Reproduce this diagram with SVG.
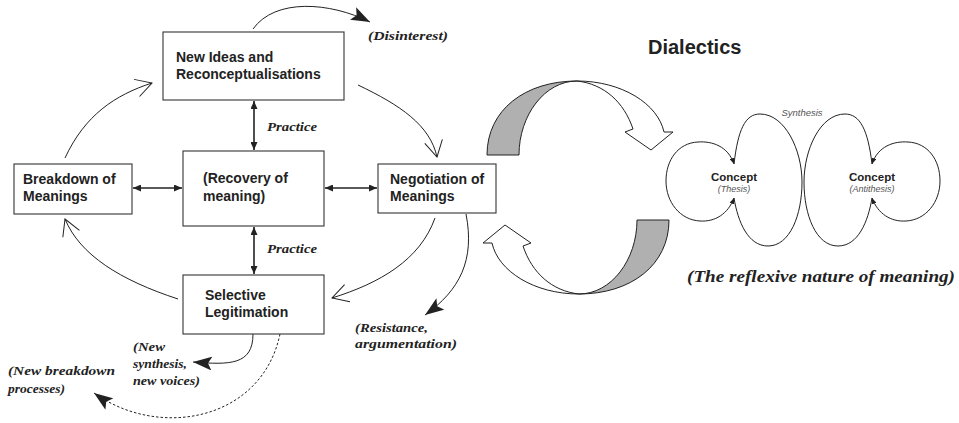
<svg xmlns="http://www.w3.org/2000/svg" width="959" height="423" viewBox="0 0 959 423">
  <style>
    .box { fill: #fff; stroke: #333; stroke-width: 1.1; }
    .lbl { font-family: "Liberation Sans", Arial, sans-serif; font-weight: bold; font-size: 14px; fill: #222; }
    .note { font-family: "Liberation Serif", "Times New Roman", serif; font-style: italic; font-weight: bold; font-size: 13px; fill: #222; }
    .line { fill: none; stroke: #222; stroke-width: 1; }
    .thick { fill: none; stroke: #222; stroke-width: 1.6; }
    .band { stroke: #222; stroke-width: 1; stroke-linejoin: miter; }
    .ctitle { font-family: "Liberation Sans", Arial, sans-serif; font-weight: bold; font-size: 11.5px; fill: #222; text-anchor: middle; }
    .csub { font-family: "Liberation Sans", Arial, sans-serif; font-style: italic; font-size: 9px; fill: #555; text-anchor: middle; }
  </style>
  <defs>
    <marker id="solid" viewBox="0 0 8 7" refX="8" refY="3.5" markerWidth="8" markerHeight="7" markerUnits="userSpaceOnUse" orient="auto-start-reverse">
      <path d="M0,0 L8,3.5 L0,7 z" fill="#222"/>
    </marker>
    <marker id="big" viewBox="0 0 19 14" refX="19" refY="7" markerWidth="19" markerHeight="14" markerUnits="userSpaceOnUse" orient="auto">
      <path d="M0,0 L19,7 L0,14 L4,7 z" fill="#222"/>
    </marker>
    <marker id="open" viewBox="-1 -1 18 20" refX="16" refY="9" markerWidth="18" markerHeight="20" markerUnits="userSpaceOnUse" orient="auto">
      <path d="M0,0 L16,9 L0,18" fill="none" stroke="#222" stroke-width="1"/>
    </marker>
    <marker id="tiny" viewBox="0 0 6 5" refX="6" refY="2.5" markerWidth="6" markerHeight="5" markerUnits="userSpaceOnUse" orient="auto-start-reverse">
      <path d="M0,0 L6,2.5 L0,5 z" fill="#222"/>
    </marker>
    <!-- twisting ribbon arrow, drawn once and reused rotated -->
    <g id="ribbon">
      <path class="band" fill="#b0b0b0" d="M487,155 C487,110 525,81 577,81 C545,81 519,115 519,155 Z"/>
      <path class="band" fill="#fff" d="M577,81 C622,81 658,104 664,132 L673,132 L651,150 L625,132 L633,129 C624,102 604,84 577,81 Z"/>
    </g>
  </defs>

  <!-- connectors -->
  <g id="connectors">
    <!-- practice links and horizontal exchanges -->
    <line class="thick" x1="254" y1="101" x2="254" y2="150" marker-start="url(#solid)" marker-end="url(#solid)"/>
    <line class="thick" x1="254" y1="227" x2="254" y2="274" marker-start="url(#solid)" marker-end="url(#solid)"/>
    <line class="thick" x1="133" y1="188" x2="182" y2="188" marker-start="url(#solid)" marker-end="url(#solid)"/>
    <line class="thick" x1="325" y1="188" x2="377" y2="188" marker-start="url(#solid)" marker-end="url(#solid)"/>

    <!-- outer cycle -->
    <path class="line" d="M65,158 C85,115 115,95 152,83" marker-end="url(#open)"/>
    <path class="line" d="M358,85 C400,105 430,125 437,157" marker-end="url(#open)"/>
    <path class="line" d="M435,218 C420,260 380,283 332,298" marker-end="url(#open)"/>
    <path class="line" d="M178,299 C120,280 80,255 65,219" marker-end="url(#open)"/>

    <!-- side outcomes -->
    <path class="line" d="M253,29 C275,-2 330,2 370,22" marker-end="url(#big)"/>
    <path class="line" d="M466,214 C475,260 460,290 425,315" marker-end="url(#big)"/>
    <path class="line" d="M253,334 C253,365 230,365 193,362" marker-end="url(#big)"/>
    <path class="line" d="M280,334 C262,420 160,440 94,393" stroke-dasharray="2.5,2" marker-end="url(#big)"/>

    <!-- ribbon arrows between the cycle and dialectics -->
    <use href="#ribbon"/>
    <use href="#ribbon" transform="rotate(180 578 187.5)"/>

    <!-- dialectic loops -->
    <path class="line" d="M734,164 C728,146 712,141 698,142 C678,143 666,160 666,181 C666,202 680,220 700,221 C715,222 728,214 734,198" marker-start="url(#tiny)" marker-end="url(#tiny)"/>
    <path class="line" d="M734,164 C738,130 745,114 760,114 C785,114 802,150 802,182 C802,215 790,246 768,246 C748,246 738,222 734,198"/>
    <path class="line" d="M872,164 C868,130 860,114 845,114 C820,114 804,150 804,182 C804,215 816,246 838,246 C858,246 868,222 872,198"/>
    <path class="line" d="M872,164 C878,146 894,141 908,142 C928,143 940,160 940,181 C940,202 926,220 906,221 C891,222 878,214 872,198" marker-start="url(#tiny)" marker-end="url(#tiny)"/>
  </g>

  <!-- nodes -->
  <g id="new-ideas">
    <rect class="box" x="163" y="32" width="181" height="68"/>
    <text class="lbl" x="176" y="62">New Ideas and</text>
    <text class="lbl" x="176" y="79">Reconceptualisations</text>
  </g>
  <g id="breakdown">
    <rect class="box" x="14" y="164" width="118" height="50"/>
    <text class="lbl" x="23" y="184">Breakdown of</text>
    <text class="lbl" x="23" y="201">Meanings</text>
  </g>
  <g id="recovery">
    <rect class="box" x="183" y="151" width="141" height="75"/>
    <text class="lbl" x="203" y="183">(Recovery of</text>
    <text class="lbl" x="203" y="201">meaning)</text>
  </g>
  <g id="negotiation">
    <rect class="box" x="378" y="164" width="118" height="49"/>
    <text class="lbl" x="390" y="184">Negotiation of</text>
    <text class="lbl" x="390" y="201">Meanings</text>
  </g>
  <g id="selective">
    <rect class="box" x="183" y="275" width="141" height="59"/>
    <text class="lbl" x="205" y="300">Selective</text>
    <text class="lbl" x="205" y="317">Legitimation</text>
  </g>

  <!-- annotations -->
  <g id="notes">
    <text class="note" x="368" y="40" textLength="80" lengthAdjust="spacingAndGlyphs">(Disinterest)</text>
    <text class="note" x="267" y="131" textLength="50" lengthAdjust="spacingAndGlyphs">Practice</text>
    <text class="note" x="267" y="253" textLength="50" lengthAdjust="spacingAndGlyphs">Practice</text>
    <text class="note" x="355" y="332" textLength="73" lengthAdjust="spacingAndGlyphs">(Resistance,</text>
    <text class="note" x="355" y="348" textLength="102" lengthAdjust="spacingAndGlyphs">argumentation)</text>
    <text class="note" x="133" y="351" textLength="32" lengthAdjust="spacingAndGlyphs">(New</text>
    <text class="note" x="133" y="368" textLength="54" lengthAdjust="spacingAndGlyphs">synthesis,</text>
    <text class="note" x="133" y="385" textLength="67" lengthAdjust="spacingAndGlyphs">new voices)</text>
    <text class="note" x="8" y="375" textLength="107" lengthAdjust="spacingAndGlyphs">(New breakdown</text>
    <text class="note" x="8" y="393" textLength="57" lengthAdjust="spacingAndGlyphs">processes)</text>
  </g>

  <!-- dialectics -->
  <g id="dialectics-title">
    <text x="648" y="54" font-family="Liberation Sans, Arial, sans-serif" font-weight="bold" font-size="20" fill="#222">Dialectics</text>
  </g>
  <g id="thesis">
    <text class="ctitle" x="734" y="181">Concept</text>
    <text class="csub" x="734" y="192">(Thesis)</text>
  </g>
  <g id="antithesis">
    <text class="ctitle" x="872" y="181">Concept</text>
    <text class="csub" x="872" y="192">(Antithesis)</text>
  </g>
  <g id="synthesis">
    <text x="802" y="116" font-family="Liberation Sans, Arial, sans-serif" font-style="italic" font-size="9.5" fill="#555" text-anchor="middle">Synthesis</text>
  </g>
  <g id="caption">
    <text x="687" y="282" font-family="Liberation Serif, Times New Roman, serif" font-style="italic" font-weight="bold" font-size="16" fill="#222" textLength="268" lengthAdjust="spacingAndGlyphs">(The reflexive nature of meaning)</text>
  </g>
</svg>
